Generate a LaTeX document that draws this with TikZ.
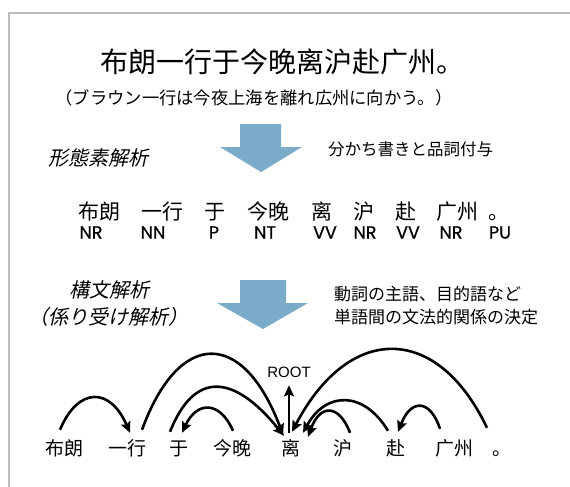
\documentclass[tikz,border=0pt]{standalone}
\usepackage{fontspec}
\newfontfamily\cnfont{Noto Sans CJK SC}
\newfontfamily\jpfont{Noto Sans CJK JP}
\newfontfamily\jpitfont[FakeSlant=0.22]{Noto Sans CJK JP}
\newfontfamily\tagfont[FakeBold=0.8]{Poppins}
\newfontfamily\rootfont{Liberation Sans}
\usetikzlibrary{arrows.meta,calc}
\definecolor{arrowblue}{RGB}{122,172,202}
\definecolor{framegray}{RGB}{190,190,194}
\tikzset{
  txt/.style={anchor=base,inner sep=0pt},
  topword/.style={txt,font=\cnfont\fontsize{21pt}{21pt}\selectfont},
  tagtxt/.style={txt,font=\tagfont\fontsize{17.5pt}{17.5pt}\selectfont},
  botword/.style={txt,font=\cnfont\fontsize{19pt}{19pt}\selectfont,text height=16pt,text depth=3pt},
  itlabel/.style={txt,font=\jpitfont\fontsize{20pt}{20pt}\selectfont},
  note/.style={txt,anchor=base west,font=\jpfont\fontsize{16.5pt}{16.5pt}\selectfont},
  dep/.style={line width=2.6pt,-{Stealth[length=11pt,width=10pt,inset=2pt]}},
  bigarrow/.style={fill=arrowblue,draw=none},
}
\begin{document}
\begin{tikzpicture}[x=1pt,y=-1pt]
\useasboundingbox (0,0) rectangle (570,487);
% frame
\draw[framegray,line width=2pt] (9,487) -- (9,13) -- (570,13);
% title
\node[txt,font=\cnfont\fontsize{28pt}{28pt}\selectfont] (title) at (282,73) {布朗一行于今晚离沪赴广州。};
\node[txt,font=\jpfont\fontsize{17.3pt}{17.3pt}\selectfont] (subtitle) at (254,104.5) {（ブラウン一行は今夜上海を離れ広州に向かう。）};
% first arrow
\fill[bigarrow] (240,124) -- (281,124) -- (281,147) -- (302,147) -- (261,172) -- (220,147) -- (240,147) -- cycle;
\node[itlabel] (morph) at (98,165) {形態素解析};
\node[note] (seg) at (328,155.7) {分かち書きと品詞付与};
% words and tags
\node[topword] (t1) at (99,219) {布朗};
\node[topword] (t2) at (162,219) {一行};
\node[topword] (t3) at (215,219) {于};
\node[topword] (t4) at (268,219) {今晚};
\node[topword] (t5) at (322,219) {离};
\node[topword] (t6) at (364,219) {沪};
\node[topword] (t7) at (406,219) {赴};
\node[topword] (t8) at (457,219) {广州};
\node[topword] (t9) at (498.5,219) {。};
\node[tagtxt] (g1) at (91,238.5) {NR};
\node[tagtxt] (g2) at (153,238.5) {NN};
\node[tagtxt] (g3) at (214,238.5) {P};
\node[tagtxt] (g4) at (265,238.5) {NT};
\node[tagtxt] (g5) at (325,238.5) {VV};
\node[tagtxt] (g6) at (365,238.5) {NR};
\node[tagtxt] (g7) at (408,238.5) {VV};
\node[tagtxt] (g8) at (451,238.5) {NR};
\node[tagtxt] (g9) at (500,238.5) {PU};
% second arrow
\fill[bigarrow] (240,280) -- (286,280) -- (286,303) -- (308,303) -- (263,329) -- (217,303) -- (240,303) -- cycle;
\node[itlabel] (synt) at (109,297.6) {構文解析};
\node[itlabel] (dep) at (108.5,324) {（係り受け解析）};
\node[note,font=\jpfont\fontsize{17pt}{17pt}\selectfont] (n1) at (334,300) {動詞の主語、目的語など};
\node[note,font=\jpfont\fontsize{17pt}{17pt}\selectfont] (n2) at (334,323) {単語間の文法的関係の決定};
% dependency row
\node[botword] (b1) at (64,455) {布朗};
\node[botword] (b2) at (127,455) {一行};
\node[botword] (b3) at (179,455) {于};
\node[botword] (b4) at (232,455) {今晚};
\node[botword] (b5) at (291,455) {离};
\node[botword] (b6) at (343,455) {沪};
\node[botword] (b7) at (396,455) {赴};
\node[botword] (b8) at (454,455) {广州};
\node[botword] (b9) at (502,455) {。};
\node[txt,font=\rootfont\fontsize{15pt}{15pt}\selectfont] (root) at (289,377) {ROOT};
% arcs
\draw[dep] ($(b1.north)+(-4,-9)$) .. controls ($(b1.north)+(14,-52)$) and ($(b2.north)+(-17,-52)$) .. ($(b2.north)+(3,-6)$);
\draw[dep] ($(b2.north)+(15,-9)$) .. controls ($(b2.north)+(52,-110)$) and ($(b5.north)+(-48,-110)$) .. ($(b5.north)+(-8,-4)$);
\draw[dep] ($(b3.north)+(-9,-7)$) .. controls ($(b3.north)+(15,-67.5)$) and ($(b5.north)+(-58,-66)$) .. ($(b5.north)+(-7,-3)$);
\draw[dep] ($(b4.north)+(1,-8)$) .. controls ($(b4.north)+(-12,-38)$) and ($(b3.north)+(18,-38)$) .. ($(b3.north)+(3,-6)$);
\draw[dep] ($(b5.north)+(-2,-6)$) -- ($(root.south)+(0,8)$);
\draw[dep] ($(b9.north)+(-15,-11)$) .. controls ($(b9.north)+(-65,-115.7)$) and ($(b5.north)+(58,-115.7)$) .. ($(b5.north)+(1,-7)$);
\draw[dep] ($(b7.north)+(-8,-8)$) .. controls ($(b7.north)+(-32,-48)$) and ($(b5.north)+(35,-48)$) .. ($(b5.north)+(12,-6)$);
\draw[dep] ($(b6.north)+(7,-6)$) .. controls ($(b6.north)+(-4,-35)$) and ($(b5.north)+(29,-35)$) .. ($(b5.north)+(17,-2)$);
\draw[dep] ($(b8.north)+(-14,-10)$) .. controls ($(b8.north)+(-24,-40)$) and ($(b7.north)+(15,-40)$) .. ($(b7.north)+(2,-7)$);
\end{tikzpicture}
\end{document}
